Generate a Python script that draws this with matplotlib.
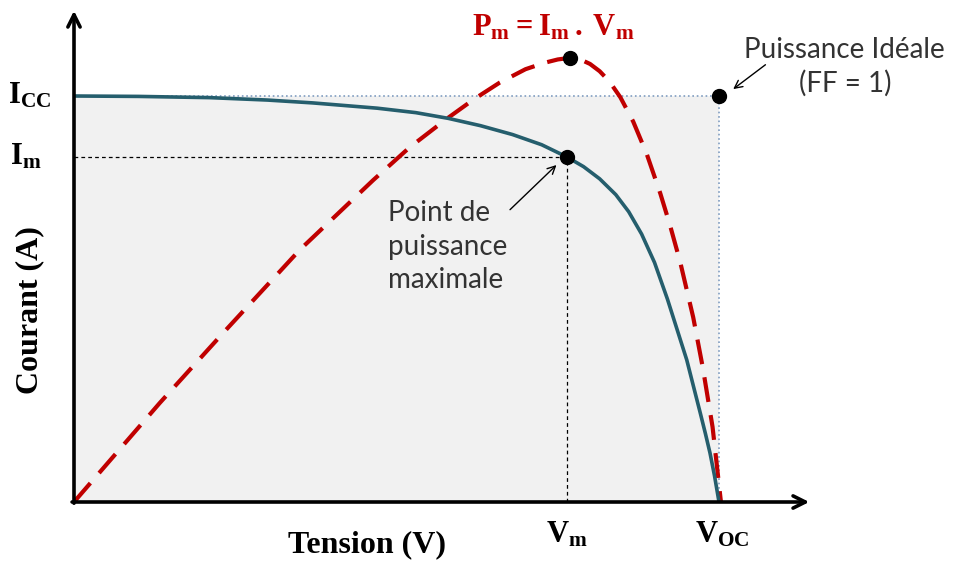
import numpy as np
import matplotlib
matplotlib.use("Agg")
import matplotlib.pyplot as plt

# normalised I-V characteristic (Voc = 1, Icc = 1)
tension = [0.0, 0.10, 0.21, 0.30, 0.37, 0.47, 0.53, 0.58, 0.63, 0.68, 0.725,
           0.764, 0.79, 0.815, 0.84, 0.86, 0.88, 0.90, 0.92, 0.935, 0.95,
           0.962, 0.971, 0.979, 0.986, 0.993, 1.0]
courant = [1.0, 0.999, 0.996, 0.990, 0.983, 0.970, 0.959, 0.945, 0.927, 0.905,
           0.880, 0.850, 0.826, 0.796, 0.757, 0.715, 0.660, 0.590, 0.500,
           0.425, 0.350, 0.275, 0.219, 0.168, 0.121, 0.065, 0.0]

# power curve (drawn in the same frame)
tension_p = [0.0, 0.133, 0.231, 0.350, 0.464, 0.52, 0.578, 0.62, 0.66, 0.70,
             0.73, 0.75, 0.769, 0.785, 0.80, 0.815, 0.83, 0.847, 0.867, 0.888,
             0.909, 0.924, 0.94, 0.96, 0.975, 0.99, 1.003]
puissance = [0.0, 0.244, 0.416, 0.621, 0.793, 0.873, 0.944, 0.992, 1.033,
             1.066, 1.082, 1.090, 1.094, 1.090, 1.079, 1.061, 1.036, 0.997,
             0.937, 0.857, 0.760, 0.682, 0.590, 0.455, 0.330, 0.185, 0.0]

v_oc, i_cc = 1.0, 1.0
v_m, i_m = 0.764, 0.850
p_max = (0.769, 1.094)

plt.rcParams['mathtext.fontset'] = 'custom'
plt.rcParams['mathtext.rm'] = 'Liberation Serif'
plt.rcParams['mathtext.bf'] = 'Liberation Serif:bold'
plt.rcParams['font.family'] = 'Liberation Serif'

fig = plt.figure(figsize=(9.54, 5.63), dpi=100)
ax = fig.add_axes([74 / 954, 61 / 563, 1.14 * 645 / 954, 1.21 * 406 / 563])
ax.set_xlim(0, 1.14)
ax.set_ylim(0, 1.21)
ax.axis('off')

# ideal power rectangle
ax.fill_between([0, v_oc], 0, i_cc, color='#f1f1f1', zorder=0, lw=0)
ax.plot([0, v_oc], [i_cc, i_cc], ls=':', color='#7f9cc0', lw=1.2, zorder=1)
ax.plot([v_oc, v_oc], [0, i_cc], ls=':', color='#7f9cc0', lw=1.2, zorder=1)

# guides to the maximum power point
ax.plot([0, v_m], [i_m, i_m], ls=(0, (3, 2.5)), color='black', lw=0.9, zorder=2)
ax.plot([v_m, v_m], [0, i_m], ls=(0, (3, 2.5)), color='black', lw=0.9, zorder=2)

ax.plot(tension_p, puissance, color='#c00000', lw=3, ls=(0, (6, 3.2)),
        zorder=3, solid_capstyle='butt')
ax.plot(tension, courant, color='#255e6d', lw=2.6, zorder=4)

ax.plot([v_m, p_max[0], v_oc], [i_m, p_max[1], i_cc], 'o', color='black',
        markersize=10, zorder=6)

# axes arrows
arrow = dict(arrowstyle='->', lw=2.6, color='black', mutation_scale=22,
             shrinkA=0, shrinkB=0)
ax.annotate('', xy=(1.14, 0), xytext=(-0.003, 0), arrowprops=arrow,
            zorder=7, annotation_clip=False)
ax.annotate('', xy=(0, 1.21), xytext=(0, -0.003), arrowprops=arrow,
            zorder=7, annotation_clip=False)

# labels
ax.text(-0.068, i_cc, r'$\mathbf{I_{CC}}$', fontsize=22, ha='center',
        va='center')
ax.text(-0.075, i_m, r'$\mathbf{I_{m}}$', fontsize=22, ha='center',
        va='center')
ax.text(v_m, -0.08, r'$\mathbf{V_{m}}$', fontsize=22, ha='center', va='center')
ax.text(v_oc + 0.005, -0.08, r'$\mathbf{V_{OC}}$', fontsize=22, ha='center',
        va='center')
ax.text(0.454, -0.106, 'Tension (V)', fontsize=23, fontweight='bold',
        ha='center', va='center')
ax.text(-0.068, 0.473, 'Courant (A)', fontsize=23, fontweight='bold',
        rotation=90, ha='center', va='center')
ax.text(0.743, 1.167, r'$\mathbf{P_{m}=I_{m}\,.\,V_{m}}$', fontsize=22,
        color='#c00000', ha='center', va='center')

light = dict(family=['Lato', 'DejaVu Sans'], fontsize=20, color='#333333')
ax.text(0.487, 0.745, 'Point de\npuissance\nmaximale', ha='left', va='top',
        linespacing=1.38, **light)
ax.text(1.195, 1.145, 'Puissance Idéale\n(FF = 1)', ha='center', va='top',
        linespacing=1.3, **light)

thin = dict(arrowstyle='->', lw=1.0, color='black', mutation_scale=14,
            shrinkA=0, shrinkB=0)
ax.annotate('', xy=(0.748, 0.83), xytext=(0.676, 0.72), arrowprops=thin)
ax.annotate('', xy=(1.022, 1.017), xytext=(1.072, 1.077), arrowprops=thin,
            annotation_clip=False)

fig.savefig('out.png', dpi=100)
